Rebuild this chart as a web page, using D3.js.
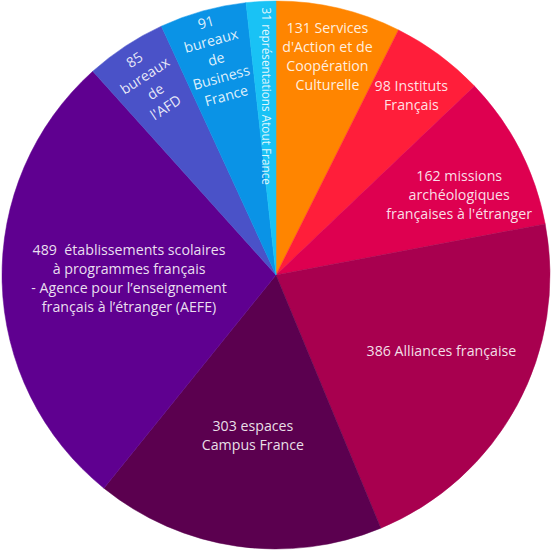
<!DOCTYPE html>
<html>
<head>
<meta charset="utf-8">
<script src="https://cdn.jsdelivr.net/npm/d3@7"></script>
<style>
  html, body { margin: 0; padding: 0; background: #fff; }
  svg { display: block; }
  text { font-family: "Open Sans", "Noto Sans", sans-serif; white-space: pre; }
</style>
</head>
<body>
<svg id="chart" width="551" height="552"></svg>
<script>
// ---- Data ----
const categories = [
  "Services d'Action et de Coopération Culturelle",
  "Instituts Français",
  "missions archéologiques françaises à l'étranger",
  "Alliances française",
  "espaces Campus France",
  "établissements scolaires à programmes français (AEFE)",
  "bureaux de l'AFD",
  "bureaux de Business France",
  "représentations Atout France"
];
const values = [131, 98, 162, 386, 303, 489, 85, 91, 31];
const labelLines = [
  ["131 Services", "d'Action et de", "Coopération", "Culturelle"],
  ["98 Instituts", "Français"],
  ["162 missions", "archéologiques", "françaises à l'étranger"],
  ["386 Alliances française"],
  ["303 espaces", "Campus France"],
  ["489  établissements scolaires", "à programmes français", "- Agence pour l’enseignement", "français à l’étranger (AEFE)"],
  ["85", "bureaux", "de", "l'AFD"],
  ["91", "bureaux", "de", "Business", "France"],
  ["31 représentations Atout France"]
];

// ---- Styles / layout ----
const colors = ["#FF8500", "#FF1E3A", "#DE0050", "#A8004F", "#5B004F", "#5F0090", "#4A52C8", "#0A93E6", "#19C2F5"];
const labelRadius = [224, 225, 200, 182, 162, 147, 229, 224, 179];
const labelAngleShift = [0, 0.5, 3.5, -3.7, 0, 0, 0, 0, 0];
const labelMode = ["flat", "flat", "flat", "flat", "flat", "flat", "radial", "radial", "vertical"];
const labelSize = [14.2, 14.2, 14.2, 14.2, 14.2, 14.2, 14.2, 14.2, 11.8];

const W = 551, H = 552;
const cx = 276, cy = 275, R = 274;
const lineH = 19;

const svg = d3.select("#chart");
const g = svg.append("g").attr("transform", `translate(${cx},${cy})`);

const data = values.map((v, i) => ({ value: v, name: categories[i], i }));
const pie = d3.pie().value(d => d.value).sort(null).startAngle(0).endAngle(2 * Math.PI);
const arcs = pie(data);
const arc = d3.arc().innerRadius(0).outerRadius(R);

g.selectAll("path.slice")
  .data(arcs)
  .join("path")
  .attr("class", "slice")
  .attr("d", arc)
  .attr("fill", d => colors[d.data.i])
  .attr("stroke", d => colors[d.data.i])
  .attr("stroke-width", 0.5);

const labels = g.selectAll("g.label")
  .data(arcs)
  .join("g")
  .attr("class", "label")
  .attr("transform", d => {
    const i = d.data.i;
    const r = labelRadius[i];
    const mid = (d.startAngle + d.endAngle) / 2 + labelAngleShift[i] * Math.PI / 180;
    const x = r * Math.sin(mid), y = -r * Math.cos(mid);
    const midDeg = mid * 180 / Math.PI;
    let rot = 0;
    if (labelMode[i] === "radial") rot = midDeg - 360;
    if (labelMode[i] === "vertical") rot = 90;
    return `translate(${x},${y}) rotate(${rot})`;
  });

labels.each(function(d) {
  const i = d.data.i;
  const lines = labelLines[i];
  const t = d3.select(this).append("text")
    .attr("text-anchor", "middle")
    .attr("font-size", labelSize[i])
    .attr("fill", "#ffffff")
    .attr("fill-opacity", 0.88);
  const n = lines.length;
  lines.forEach((ln, k) => {
    t.append("tspan")
      .attr("x", 0)
      .attr("y", (k - (n - 1) / 2) * lineH)
      .attr("dy", "0.35em")
      .text(ln);
  });
});
</script>
</body>
</html>
